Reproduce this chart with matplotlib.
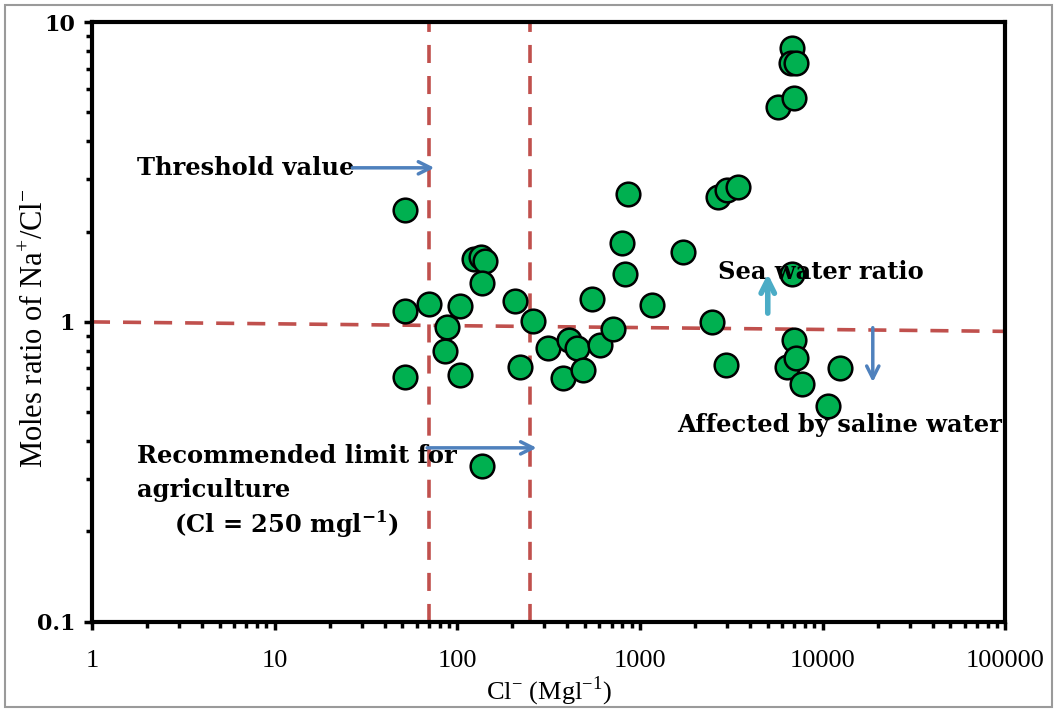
import matplotlib.pyplot as plt
import matplotlib.patches as mpatches
import numpy as np

plt.rcParams['mathtext.fontset'] = 'custom'
plt.rcParams['mathtext.rm'] = 'Liberation Serif'
plt.rcParams['mathtext.bf'] = 'DejaVu Serif:bold'

# Cl- (mg/l) and Na+/Cl- molar ratio
cl = [52, 52, 52, 70, 88, 86, 104, 104, 124, 135, 142, 137, 137,
      207, 260, 221, 314, 380, 410, 453, 489, 547, 606, 713,
      799, 830, 861, 1166, 1725, 2485, 2681, 3005, 3450, 2966,
      5712, 6810, 6700, 7200, 6990, 6810, 7000, 6400, 7200, 7730,
      10730, 12490]
ratio = [2.36, 1.09, 0.655, 1.15, 0.96, 0.80, 1.13, 0.666, 1.62, 1.65, 1.60, 1.35, 0.331,
         1.17, 1.01, 0.71, 0.82, 0.65, 0.87, 0.82, 0.69, 1.19, 0.84, 0.95,
         1.83, 1.45, 2.67, 1.14, 1.71, 1.0, 2.61, 2.75, 2.81, 0.72,
         5.2, 8.2, 7.3, 7.3, 5.6, 1.44, 0.87, 0.71, 0.76, 0.62,
         0.525, 0.70]

threshold = 70
agri_limit = 250
sea_line_x = [1, 100000]
sea_line_y = [1.0, 0.93]

red = '#C0504D'
green = '#00B050'
blue = '#4F81BD'
cyan = '#4BACC6'
dash = (0, (5, 3.6))

fig = plt.figure(figsize=(10.57, 7.13), dpi=100)
fig.patches.append(mpatches.Rectangle((0.005, 0.008), 0.99, 0.985, transform=fig.transFigure,
                                      fill=False, edgecolor='#9a9a9a', linewidth=1.5))
ax = fig.add_axes([0.087, 0.128, 0.864, 0.841])

ax.set_xscale('log')
ax.set_yscale('log')
ax.set_xlim(1, 100000)
ax.set_ylim(0.1, 10)

ax.axvline(threshold, color=red, ls=dash, lw=2.6, zorder=1)
ax.axvline(agri_limit, color=red, ls=dash, lw=2.6, zorder=1)
ax.plot(sea_line_x, sea_line_y, color=red, ls=dash, lw=2.6, zorder=1)

ax.scatter(cl, ratio, s=290, c=green, edgecolors='black', linewidths=1.8, zorder=3)

for sp in ax.spines.values():
    sp.set_linewidth(3)

ax.set_xticks([1, 10, 100, 1000, 10000, 100000])
ax.set_xticklabels(['1', '10', '100', '1000', '10000', '100000'])
ax.set_yticks([0.1, 1, 10])
ax.set_yticklabels(['0.1', '1', '10'])
ax.tick_params(which='major', direction='out', length=6, width=2.5, pad=14, labelsize=17)
ax.tick_params(which='minor', direction='out', length=4, width=2.5)
ax.tick_params(axis='y', pad=6)
for lab in ax.get_xticklabels():
    lab.set_family('Liberation Serif')
    lab.set_fontsize(19)
for lab in ax.get_yticklabels():
    lab.set_family('DejaVu Serif')
    lab.set_fontweight('bold')
    lab.set_fontsize(16)

ax.set_xlabel('Cl$^{-}$ (Mgl$^{-1}$)', family='Liberation Serif', fontsize=19, labelpad=2)
ax.set_ylabel('Moles ratio of Na$^{+}$/Cl$^{-}$', family='Liberation Serif', fontsize=22)
ax.yaxis.set_label_coords(-0.046, 0.49)

tfont = dict(family='DejaVu Serif', fontweight='bold', fontsize=17.4)

ax.text(0.049, 0.757, 'Threshold value', transform=ax.transAxes, va='center', **tfont)
ax.annotate('', xy=(0.378, 0.757), xytext=(0.282, 0.757), xycoords='axes fraction',
            arrowprops=dict(arrowstyle='->', color=blue, lw=2.5, mutation_scale=22))

ax.text(0.686, 0.583, 'Sea water ratio', transform=ax.transAxes, va='center', **tfont)
ax.annotate('', xy=(0.740, 0.585), xytext=(0.740, 0.51), xycoords='axes fraction',
            arrowprops=dict(arrowstyle='->', color=cyan, lw=4, mutation_scale=24))

ax.text(0.641, 0.328, 'Affected by saline water', transform=ax.transAxes, va='center', **tfont)
ax.annotate('', xy=(0.855, 0.395), xytext=(0.855, 0.495), xycoords='axes fraction',
            arrowprops=dict(arrowstyle='->', color=blue, lw=2.5, mutation_scale=22))

ax.text(0.049, 0.248, 'Recommended limit for\nagriculture', transform=ax.transAxes,
        va='center', linespacing=1.55, **tfont)
ax.text(0.09, 0.162, '(Cl = 250 mgl$^{\\mathbf{-1}}$)', transform=ax.transAxes, va='center', **tfont)
ax.annotate('', xy=(0.49, 0.29), xytext=(0.364, 0.29), xycoords='axes fraction',
            arrowprops=dict(arrowstyle='->', color=blue, lw=2.5, mutation_scale=22))

fig.savefig('out.png', dpi=100)
